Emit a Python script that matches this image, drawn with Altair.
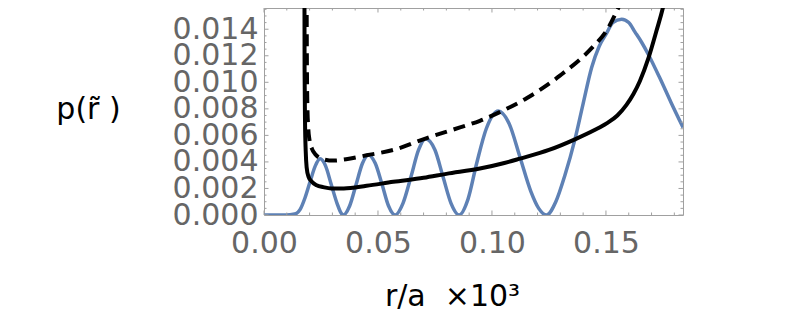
import altair as alt
import pandas as pd

# ---- data ----
blue_x = [0.0, 0.008, 0.0114, 0.0140, 0.0158, 0.0180, 0.0202, 0.0225, 0.0246, 0.0270, 0.0295, 0.0320, 0.0340, 0.0348,
          0.0376, 0.0404, 0.0432, 0.0458, 0.0488, 0.0518, 0.0546, 0.0575,
          0.0610, 0.0645, 0.0678, 0.0708, 0.0750, 0.0785, 0.0820, 0.0856,
          0.0895, 0.0933, 0.0975, 0.1027, 0.1075, 0.1123, 0.1170, 0.1205, 0.1240,
          0.1280, 0.1320, 0.1364, 0.1400, 0.1437, 0.1470, 0.1503, 0.1530, 0.1569, 0.1600, 0.1627, 0.1657,
          0.1686, 0.1737, 0.1785, 0.1838]
blue_y = [0.0, 0.0, 0.00002, 0.0001, 0.0004, 0.0013, 0.0025, 0.0037, 0.00423, 0.0037, 0.0023, 0.0009, 0.0001, 0.0,
          0.0007, 0.0023, 0.0039, 0.00455, 0.0039, 0.0023, 0.0007, 0.0,
          0.0009, 0.0029, 0.0049, 0.00575, 0.0049, 0.0029, 0.0009, 0.0,
          0.0012, 0.0039, 0.0065, 0.00784, 0.0069, 0.00435, 0.0018, 0.0005, 0.0,
          0.0010, 0.0030, 0.0057, 0.0084, 0.0111, 0.0127, 0.0137, 0.0145, 0.01475, 0.0145, 0.0138, 0.0130,
          0.0121, 0.0103, 0.0085, 0.0066]

solid_x = [0.01775, 0.0178, 0.0180, 0.0183, 0.0187, 0.0195, 0.0210, 0.0231, 0.0260, 0.0295, 0.0350, 0.0450,
           0.0567, 0.0700, 0.0800, 0.0947, 0.1050, 0.1123, 0.1250, 0.1364, 0.1450, 0.1503, 0.1550, 0.1590,
           0.1620, 0.1649, 0.1686, 0.1722, 0.1751, 0.1765]
solid_y = [0.0165, 0.0110, 0.0070, 0.0048, 0.0036, 0.0029, 0.0025, 0.00224, 0.0021, 0.0020, 0.0020, 0.0022,
           0.0025, 0.0028, 0.0031, 0.0035, 0.0039, 0.00425, 0.0049, 0.0057, 0.0064, 0.0069, 0.0075, 0.0083,
           0.0091, 0.0101, 0.0118, 0.0139, 0.0157, 0.0168]

dash_x = [0.0187, 0.0188, 0.0190, 0.0194, 0.0200, 0.0210, 0.0224, 0.0260, 0.0304, 0.0360, 0.0450, 0.0567,
          0.0714, 0.0860, 0.0947, 0.1027, 0.1152, 0.1298, 0.1444, 0.1503, 0.1554, 0.1575]
dash_y = [0.0165, 0.0120, 0.0085, 0.0066, 0.0056, 0.0050, 0.0046, 0.0042, 0.0041, 0.0042, 0.0045, 0.0049,
          0.0058, 0.0066, 0.0071, 0.0077, 0.0088, 0.0105, 0.0127, 0.0139, 0.0156, 0.0164]

x_major = [0.0, 0.05, 0.10, 0.15]
x_minor = [0.01, 0.02, 0.03, 0.04, 0.06, 0.07, 0.08, 0.09, 0.11, 0.12, 0.13, 0.14, 0.16, 0.17, 0.18]
y_major = [0.000, 0.002, 0.004, 0.006, 0.008, 0.010, 0.012, 0.014]
y_minor = [0.0005, 0.0010, 0.0015, 0.0025, 0.0030, 0.0035, 0.0045, 0.0050, 0.0055,
           0.0065, 0.0070, 0.0075, 0.0085, 0.0090, 0.0095, 0.0105, 0.0110, 0.0115,
           0.0125, 0.0130, 0.0135, 0.0145, 0.0150, 0.0155]

X_DOMAIN = [0.0, 0.1838]
Y_DOMAIN = [0.0, 0.0156]

W, H = 419, 207
FRAME = "#a0a0a0"
FONT = "DejaVu Sans"

xs = alt.Scale(domain=X_DOMAIN, nice=False, zero=False)
ys = alt.Scale(domain=Y_DOMAIN, nice=False, zero=False)

x_axis = alt.Axis(values=x_major, format=".2f", ticks=False, domain=False, grid=False,
                  labelFont=FONT, labelFontSize=30, labelColor="#666666", labelPadding=13,
                  labelFlush=False, labelOverlap=False, labelBound=False,
                  title="r/a\u00a0\u00a0×10³", titleFont=FONT, titleFontSize=30, titleColor="black",
                  titleFontWeight="normal", titleX=188, titleY=90, titleAlign="center",
                  titleBaseline="alphabetic", titleAnchor="start")
y_axis = alt.Axis(values=y_major, format=".3f", ticks=False, domain=False, grid=False,
                  labelFont=FONT, labelFontSize=30, labelColor="#666666", labelPadding=6,
                  labelOverlap=False, labelBound=False, labelFlush=False,
                  title="p(r\u0303\u00a0)", titleFont=FONT, titleFontSize=30, titleColor="black",
                  titleFontWeight="normal", titleAngle=0, titleX=-176, titleY=110,
                  titleAlign="center", titleBaseline="alphabetic", titleAnchor="start")

X = alt.X("x:Q", scale=xs, axis=x_axis)
Y = alt.Y("y:Q", scale=ys, axis=y_axis)

blue_df = pd.DataFrame({"x": blue_x, "y": blue_y})
solid_df = pd.DataFrame({"x": solid_x, "y": solid_y})
dash_df = pd.DataFrame({"x": dash_x, "y": dash_y})

blue = alt.Chart(blue_df).mark_line(color="#5E81B5", strokeWidth=3.5, interpolate="monotone",
                                    clip=True).encode(x=X, y=Y)
solid = alt.Chart(solid_df).mark_line(color="black", strokeWidth=4, interpolate="monotone",
                                      clip=True).encode(x=X, y=Y)
dashed = alt.Chart(dash_df).mark_line(color="black", strokeWidth=4, interpolate="monotone",
                                      strokeDash=[12, 7], clip=True).encode(x=X, y=Y)

def xticks(vals, length):
    df = pd.DataFrame({"x": vals})
    bottom = alt.Chart(df).mark_rule(color=FRAME, strokeWidth=1).encode(
        x=X, y=alt.value(H), y2=alt.value(H - length))
    top = alt.Chart(df).mark_rule(color=FRAME, strokeWidth=1).encode(
        x=X, y=alt.value(0), y2=alt.value(length))
    return [bottom, top]

def yticks(vals, length):
    df = pd.DataFrame({"y": vals})
    left = alt.Chart(df).mark_rule(color=FRAME, strokeWidth=1).encode(
        y=Y, x=alt.value(0), x2=alt.value(length))
    right = alt.Chart(df).mark_rule(color=FRAME, strokeWidth=1).encode(
        y=Y, x=alt.value(W), x2=alt.value(W - length))
    return [left, right]

tick_layers = xticks(x_major, 4.5) + xticks(x_minor, 2.5) + yticks(y_major, 4.5) + yticks(y_minor, 2.5)

chart = alt.layer(blue, solid, dashed, *tick_layers).properties(
    width=W, height=H,
    autosize=alt.AutoSizeParams(type="none"),
    padding={"left": 256, "top": 0, "right": 30, "bottom": 104},
).configure_view(stroke=FRAME, strokeWidth=1)

chart.save("out.html", embed_options={"renderer": "svg", "actions": False})
